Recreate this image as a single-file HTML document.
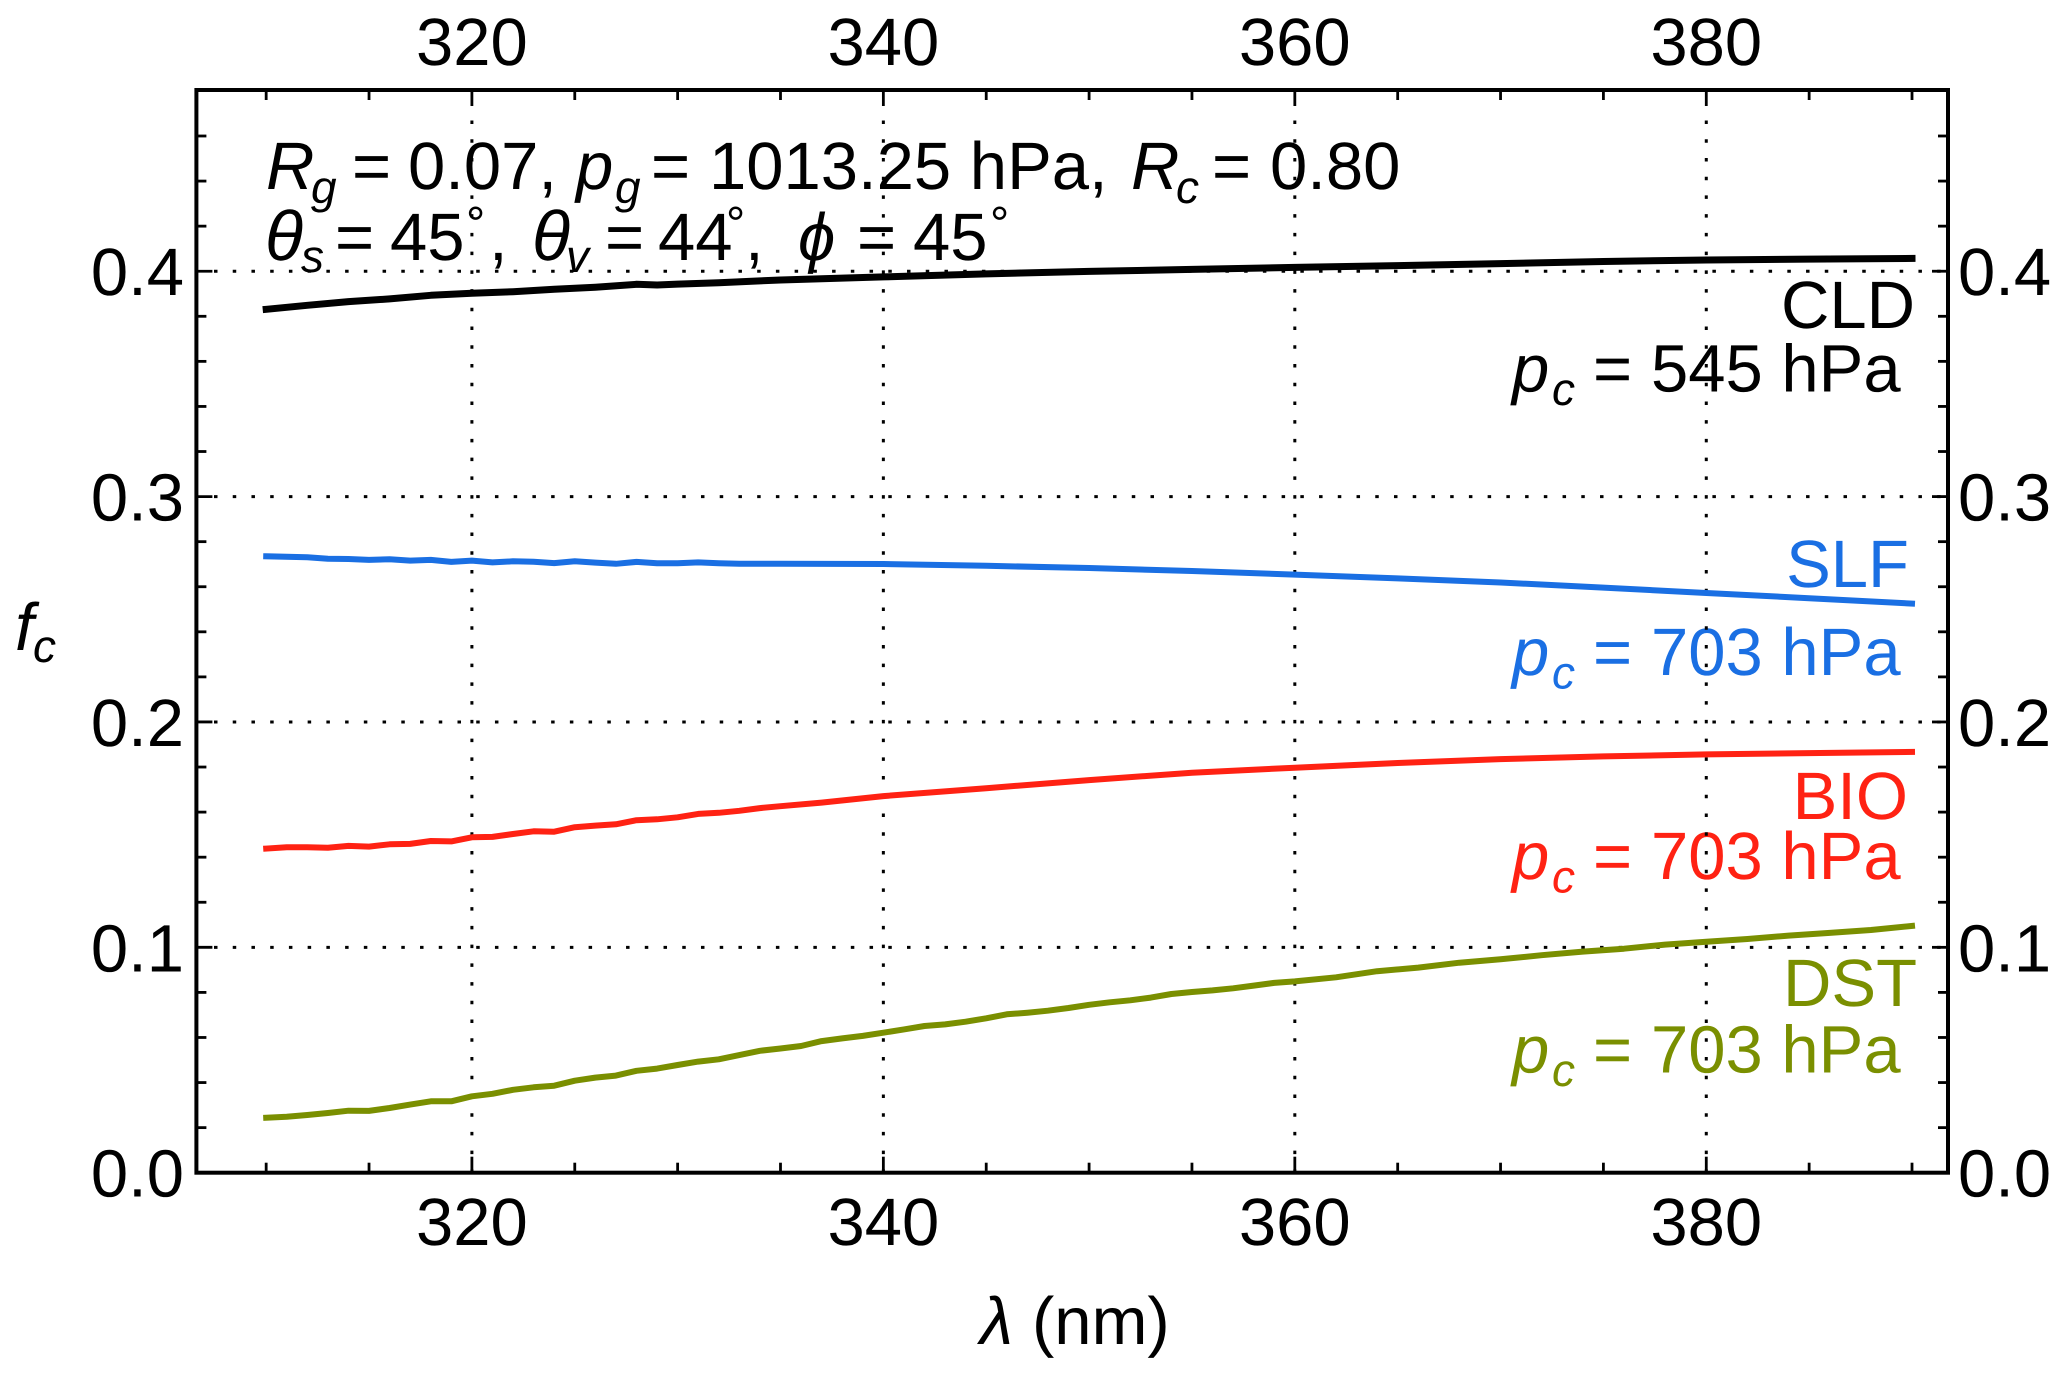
<!DOCTYPE html>
<html lang="en">
<head>
<meta charset="utf-8">
<title>Cloud fraction versus wavelength</title>
<style>
html,body{margin:0;padding:0;background:#fff;}
svg{display:block;}
text{font-family:"Liberation Sans",Arial,"DejaVu Sans",sans-serif;font-size:67px;fill:#000;text-rendering:geometricPrecision;}
.i{font-style:italic;}
.t{font-style:italic;font-size:70px;}
.s{font-size:46px;font-style:italic;}
.d{font-size:48px;}
.cld text{fill:#000;}
.slf text{fill:#1a6fe3;}
.bio text{fill:#ff2213;}
.dst text{fill:#7a8f00;}
</style>
</head>
<body>
<svg id="chart" xmlns="http://www.w3.org/2000/svg" width="2067" height="1375" viewBox="0 0 2067 1375">
  <rect x="0" y="0" width="2067" height="1375" fill="#fff"/>

  <g>
    <g>
      <text x="266" y="189" class="i">R</text><text x="311" y="203" class="s">g</text>
      <text x="352" y="189">=</text><text x="408" y="189">0.07,</text>
      <text x="576" y="189" class="i">p</text><text x="615" y="203" class="s">g</text>
      <text x="651" y="189">=</text><text x="709" y="189">1013.25 hPa,</text>
      <text x="1131" y="189" class="i">R</text><text x="1176" y="203" class="s">c</text>
      <text x="1212" y="189">=</text><text x="1270" y="189">0.80</text>
    </g>
    <g>
      <text x="265" y="260" class="t">θ</text><text x="301" y="272" class="s">s</text>
      <text x="335" y="260">=</text><text x="390" y="260">45</text><text x="466" y="240" class="d">°</text><text x="489" y="260">,</text>
      <text x="532" y="260" class="t">θ</text><text x="566" y="272" class="s">v</text>
      <text x="605" y="260">=</text><text x="658" y="260">44</text><text x="726" y="240" class="d">°</text><text x="745" y="260">,</text>
      <text x="798" y="260" class="i">ϕ</text>
      <text x="857" y="260">=</text><text x="913" y="260">45</text><text x="990" y="240" class="d">°</text>
    </g>
  </g>

  <g class="cld">
    <text x="1915" y="328" text-anchor="end">CLD</text>
    <text x="1512" y="391.5" class="i">p</text><text x="1552" y="405" class="s">c</text>
    <text x="1593" y="391.5">=</text><text x="1651" y="391.5">545 hPa</text>
  </g>
  <g class="slf">
    <text x="1909" y="587" text-anchor="end">SLF</text>
    <text x="1512" y="675" class="i">p</text><text x="1552" y="688.5" class="s">c</text>
    <text x="1593" y="675">=</text><text x="1651" y="675">703 hPa</text>
  </g>
  <g class="bio">
    <text x="1908" y="819" text-anchor="end">BIO</text>
    <text x="1512" y="879" class="i">p</text><text x="1552" y="892.5" class="s">c</text>
    <text x="1593" y="879">=</text><text x="1651" y="879">703 hPa</text>
  </g>
  <g class="dst">
    <text x="1917" y="1006" text-anchor="end">DST</text>
    <text x="1512" y="1072.5" class="i">p</text><text x="1552" y="1086" class="s">c</text>
    <text x="1593" y="1072.5">=</text><text x="1651" y="1072.5">703 hPa</text>
  </g>

  <g id="grid"></g>
  <g id="series"></g>
  <g id="ticks"></g>
  <rect x="196.4" y="90" width="1751.6" height="1082.7" fill="none" stroke="#000" stroke-width="4"/>
  <g id="labels"></g>

  <text x="980" y="1344"><tspan class="i">λ</tspan></text>
  <text x="1032" y="1344">(nm)</text>
  <g>
    <text x="15" y="650" class="i">f</text><text x="33" y="662" class="s">c</text>
  </g>
</svg>
<script>
var xMajorTicks = [320, 340, 360, 380];
var xMinorTicks = [310, 315, 325, 330, 335, 345, 350, 355, 365, 370, 375, 385, 390];
var yMajorTicks = [0.0, 0.1, 0.2, 0.3, 0.4];
var yMinorTicks = [0.02, 0.04, 0.06, 0.08, 0.12, 0.14, 0.16, 0.18, 0.22, 0.24, 0.26, 0.28, 0.32, 0.34, 0.36, 0.38, 0.42, 0.44, 0.46];
var yTickLabels = ['0.0', '0.1', '0.2', '0.3', '0.4'];

var cldWavelengths = [310,312,314,316,318,320,322,324,326,328,329,330,332,334,335,340,345,350,355,360,365,370,375,380,385,390];
var cldValues = [.3831,.3849,.3865,.3877,.3893,.3902,.3909,.3920,.3929,.3942,.3939,.3943,.3949,.3957,.3961,.3975,.3988,.3999,.4008,.4017,.4025,.4034,.4043,.4050,.4054,.4057];

var slfWavelengths = [310,312,313,314,315,316,317,318,319,320,321,322,323,324,325,326,327,328,329,330,331,332,333,334,335,340,345,350,355,360,365,370,375,380,385,390];
var slfValues = [.2735,.2731,.2724,.2723,.2719,.2722,.2716,.2719,.2710,.2716,.2708,.2713,.2711,.2705,.2713,.2707,.2702,.2710,.2704,.2704,.2708,.2704,.2702,.2702,.2702,.2701,.2693,.2683,.2670,.2654,.2637,.2619,.2596,.2572,.2549,.2525];

var bioWavelengths = [310,311,312,313,314,315,316,317,318,319,320,321,322,323,324,325,326,327,328,329,330,331,332,333,334,335,337,340,345,350,355,360,365,370,375,380,385,390];
var bioValues = [.1438,.1444,.1444,.1442,.1450,.1447,.1457,.1459,.1472,.1470,.1488,.1490,.1503,.1515,.1513,.1533,.1540,.1546,.1564,.1568,.1577,.1592,.1597,.1606,.1618,.1626,.1642,.1671,.1706,.1742,.1775,.1797,.1818,.1835,.1847,.1856,.1862,.1867];

var dstWavelengths = [310,311,312,313,314,315,316,317,318,319,320,321,322,323,324,325,326,327,328,329,330,331,332,333,334,335,336,337,338,339,340,341,342,343,344,345,346,347,348,349,350,351,352,353,354,355,356,357,358,359,360,362,364,366,368,370,372,374,376,378,380,382,384,386,388,390];
var dstValues = [.0244,.0248,.0256,.0265,.0275,.0274,.0287,.0302,.0317,.0317,.0339,.0350,.0368,.0379,.0386,.0408,.0422,.0431,.0452,.0462,.0478,.0493,.0503,.0522,.0541,.0551,.0562,.0584,.0596,.0607,.0621,.0636,.0651,.0658,.0670,.0685,.0703,.0710,.0719,.0731,.0745,.0756,.0765,.0777,.0793,.0802,.0809,.0818,.0830,.0842,.0849,.0867,.0894,.0910,.0932,.0947,.0965,.0981,.0994,.1012,.1025,.1037,.1052,.1064,.1077,.1095];

var NS = 'http://www.w3.org/2000/svg';
function xScale(nm) { return 471.9 + (nm - 320) * 20.573; }
function yScale(v) { return 1172.7 - v * 2253.7; }

function svgEl(tag, parent, attrs) {
  var el = document.createElementNS(NS, tag);
  for (var k in attrs) { el.setAttribute(k, attrs[k]); }
  parent.appendChild(el);
  return el;
}

var gridG = document.getElementById('grid');
var seriesG = document.getElementById('series');
var ticksG = document.getElementById('ticks');
var labelsG = document.getElementById('labels');

xMajorTicks.forEach(function (t) {
  var line = svgEl('line', gridG, {x1: xScale(t), x2: xScale(t), y1: 120.5, y2: 1172, stroke: '#000', 'stroke-width': 3, 'stroke-dasharray': '3.5 15.23'});
  
  
});
yMajorTicks.slice(1).forEach(function (t) {
  var line = svgEl('line', gridG, {x1: 214, x2: 1948, y1: yScale(t), y2: yScale(t), stroke: '#000', 'stroke-width': 3, 'stroke-dasharray': '3.5 15.23'});
  
  
});

function drawSeries(name, xs, ys, color, width) {
  var pts = xs.map(function (x, i) { return xScale(x).toFixed(1) + ',' + yScale(ys[i]).toFixed(1); }).join(' ');
  var line = svgEl('polyline', seriesG, {points: pts, fill: 'none', stroke: color, 'stroke-width': width, 'stroke-linejoin': 'round', 'stroke-linecap': 'square'});
  
  
}
drawSeries('cld-line', cldWavelengths, cldValues, '#000000', 7);
drawSeries('slf-line', slfWavelengths, slfValues, '#1a6fe3', 6);
drawSeries('bio-line', bioWavelengths, bioValues, '#ff2213', 6);
drawSeries('dst-line', dstWavelengths, dstValues, '#7a8f00', 6);

function xTick(t, len) {
  var a = svgEl('line', ticksG, {x1: xScale(t), x2: xScale(t), y1: 90, y2: 90 + len, stroke: '#000', 'stroke-width': 2.8});
  
  
  var b = svgEl('line', ticksG, {x1: xScale(t), x2: xScale(t), y1: 1172.7, y2: 1172.7 - len, stroke: '#000', 'stroke-width': 2.8});
  
  
}
function yTick(t, len) {
  var a = svgEl('line', ticksG, {x1: 196.4, x2: 196.4 + len, y1: yScale(t), y2: yScale(t), stroke: '#000', 'stroke-width': 2.8});
  
  
  var b = svgEl('line', ticksG, {x1: 1948, x2: 1948 - len, y1: yScale(t), y2: yScale(t), stroke: '#000', 'stroke-width': 2.8});
  
  
}
xMajorTicks.forEach(function (t) { xTick(t, 16); });
xMinorTicks.forEach(function (t) { xTick(t, 10); });
yMajorTicks.forEach(function (t) { yTick(t, 16); });
yMinorTicks.forEach(function (t) { yTick(t, 10); });

xMajorTicks.forEach(function (t) {
  var top = svgEl('text', labelsG, {x: xScale(t), y: 65, 'text-anchor': 'middle'});
  top.textContent = String(t);
  
  
  var bottom = svgEl('text', labelsG, {x: xScale(t), y: 1245, 'text-anchor': 'middle'});
  bottom.textContent = String(t);
  
  
});
yMajorTicks.forEach(function (t, i) {
  var left = svgEl('text', labelsG, {x: 184, y: yScale(t) + 24, 'text-anchor': 'end'});
  left.textContent = yTickLabels[i];
  
  
  var right = svgEl('text', labelsG, {x: 1958, y: yScale(t) + 24});
  right.textContent = yTickLabels[i];
  
  
});
</script>
</body>
</html>
